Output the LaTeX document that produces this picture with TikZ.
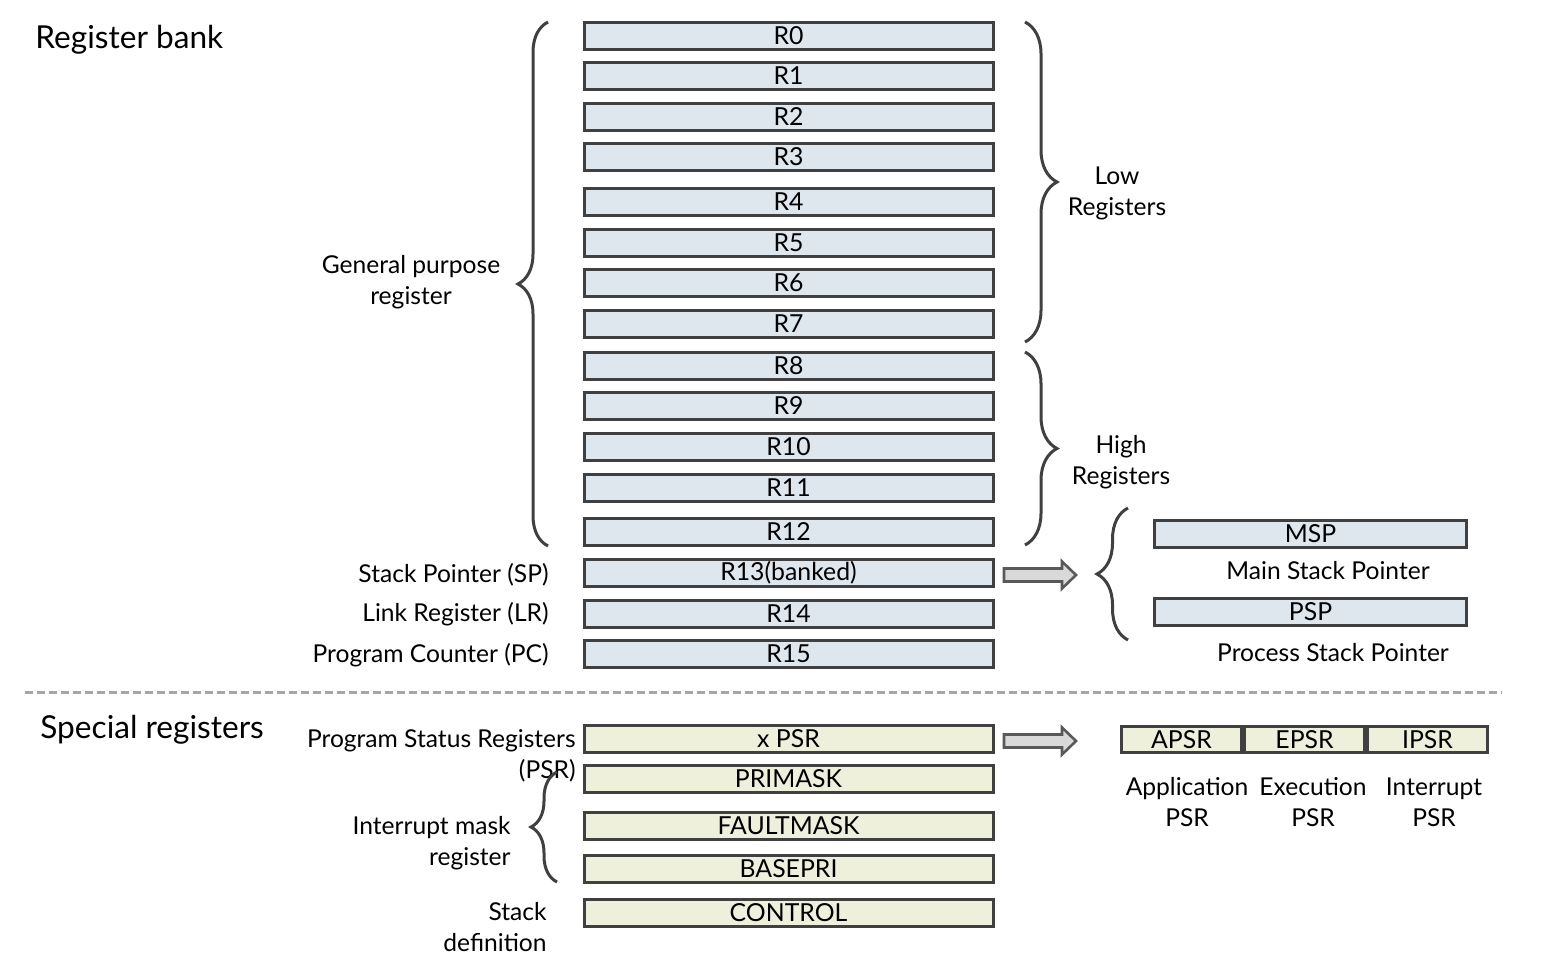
\documentclass[tikz,border=0pt]{standalone}
\usepackage{fontspec}
\setmainfont{Lato}
\usetikzlibrary{decorations.pathreplacing}
\definecolor{bx}{HTML}{404040}
\definecolor{blu}{HTML}{DEE6EE}
\definecolor{yel}{HTML}{EEF0DC}
\definecolor{dsh}{HTML}{A6A6A6}
\definecolor{arf}{HTML}{D9D9D9}
\definecolor{ard}{HTML}{595959}
\begin{document}
\begin{tikzpicture}[x=0.5pt,y=-0.5pt,
  box/.style={draw=bx,line width=1.5pt,minimum height=13.3pt,inner sep=0pt,font=\fontsize{12.4}{14}\selectfont},
  reg/.style={box,fill=blu,minimum width=204.5pt},
  spc/.style={box,fill=yel,minimum width=204.5pt},
  lbl/.style={font=\fontsize{12.3}{15.5}\selectfont,inner sep=0pt},
  big/.style={font=\fontsize{15.8}{18}\selectfont,inner sep=0pt,anchor=west},
  brc/.style={draw=bx,line width=1.5pt,decorate},
  blk/.style={draw=ard,fill=arf,line width=1.3pt,line join=miter}
]
\useasboundingbox (0,0) rectangle (1550,954);
% titles
\node[big] (tbank) at (35,40) {Register bank};
\node[big] (tspec) at (40,730) {Special registers};
% registers
\foreach \n/\y in {0/36,1/76,2/117,3/157,4/202,5/243,6/283,7/324,8/366,9/406,10/447,11/488,12/532}
  \node[reg] (r\n) at (788.5,\y) {R\n};
\node[reg] (r13) at (788.5,573) {R13(banked)};
\node[reg] (r14) at (788.5,614) {R14};
\node[reg] (r15) at (788.5,654) {R15};
% special
\node[spc] (xpsr) at (788.5,739) {x PSR};
\node[spc] (primask) at (788.5,779) {PRIMASK};
\node[spc] (faultmask) at (788.5,826) {FAULTMASK};
\node[spc] (basepri) at (788.5,869) {BASEPRI};
\node[spc] (control) at (788.5,913) {CONTROL};
% left labels
\node[lbl,align=center] (gpr) at (411,282.5) {General purpose\\register};
\node[lbl,anchor=east] (lsp) at (549,575) {Stack Pointer (SP)};
\node[lbl,anchor=east] (llr) at (549,614) {Link Register (LR)};
\node[lbl,anchor=east] (lpc) at (549,655) {Program Counter (PC)};
\node[lbl,anchor=east,align=right] (lpsr) at (576,755.5) {Program Status Registers\\(PSR)};
\node[lbl,anchor=east,align=right] (lim) at (511,843.5) {Interrupt mask\\register};
\node[lbl,anchor=east,align=right] (lsd) at (547,927) {Stack\\definition};
% right labels
\node[lbl,align=center] (llow) at (1117,193.5) {Low\\Registers};
\node[lbl,align=center] (lhigh) at (1121,462.5) {High\\Registers};
% braces
\draw[brc,decoration={brace,amplitude=15pt}] (548,546) -- (548,22);
\draw[brc,decoration={brace,amplitude=16pt}] (1025,22) -- (1025,342);
\draw[brc,decoration={brace,amplitude=16pt}] (1025,352) -- (1025,545);
\draw[brc,decoration={brace,amplitude=15.5pt}] (1128,640) -- (1128,508);
\draw[brc,decoration={brace,amplitude=13pt}] (557,882) -- (557,772);
% stack pointers
\node[reg,minimum width=156pt] (msp) at (1310.5,534) {MSP};
\node[reg,minimum width=156pt] (psp) at (1310.5,612) {PSP};
\node[lbl] (lmsp) at (1328,571) {Main Stack Pointer};
\node[lbl] (lpsp) at (1333,653) {Process Stack Pointer};
% psr parts
\node[box,fill=yel,minimum width=60pt] (apsr) at (1181.5,739.5) {APSR};
\node[box,fill=yel,minimum width=60pt] (epsr) at (1304.5,739.5) {EPSR};
\node[box,fill=yel,minimum width=60pt] (ipsr) at (1427.5,739.5) {IPSR};
\node[lbl,align=center] (lapsr) at (1187,802.5) {Application\\PSR};
\node[lbl,align=center] (lepsr) at (1313,802.5) {Execution\\PSR};
\node[lbl,align=center] (lipsr) at (1434,802.5) {Interrupt\\PSR};
% block arrows
\coordinate (a1) at (1004,575);
\coordinate (a2) at (1004,741);
\foreach \a in {a1,a2}
  \draw[blk] (\a) ++(0,-6.5) -- ++(58,0) -- ++(0,-7) -- ++(14,13.5) -- ++(-14,13.5) -- ++(0,-7) -- ++(-58,0) -- cycle;
% dashed separator
\coordinate (d1) at (25,692);
\coordinate (d2) at (1502,692);
\draw[dsh,line width=1.5pt,dash pattern=on 4pt off 2pt] (d1) -- (d2);
\end{tikzpicture}
\end{document}
